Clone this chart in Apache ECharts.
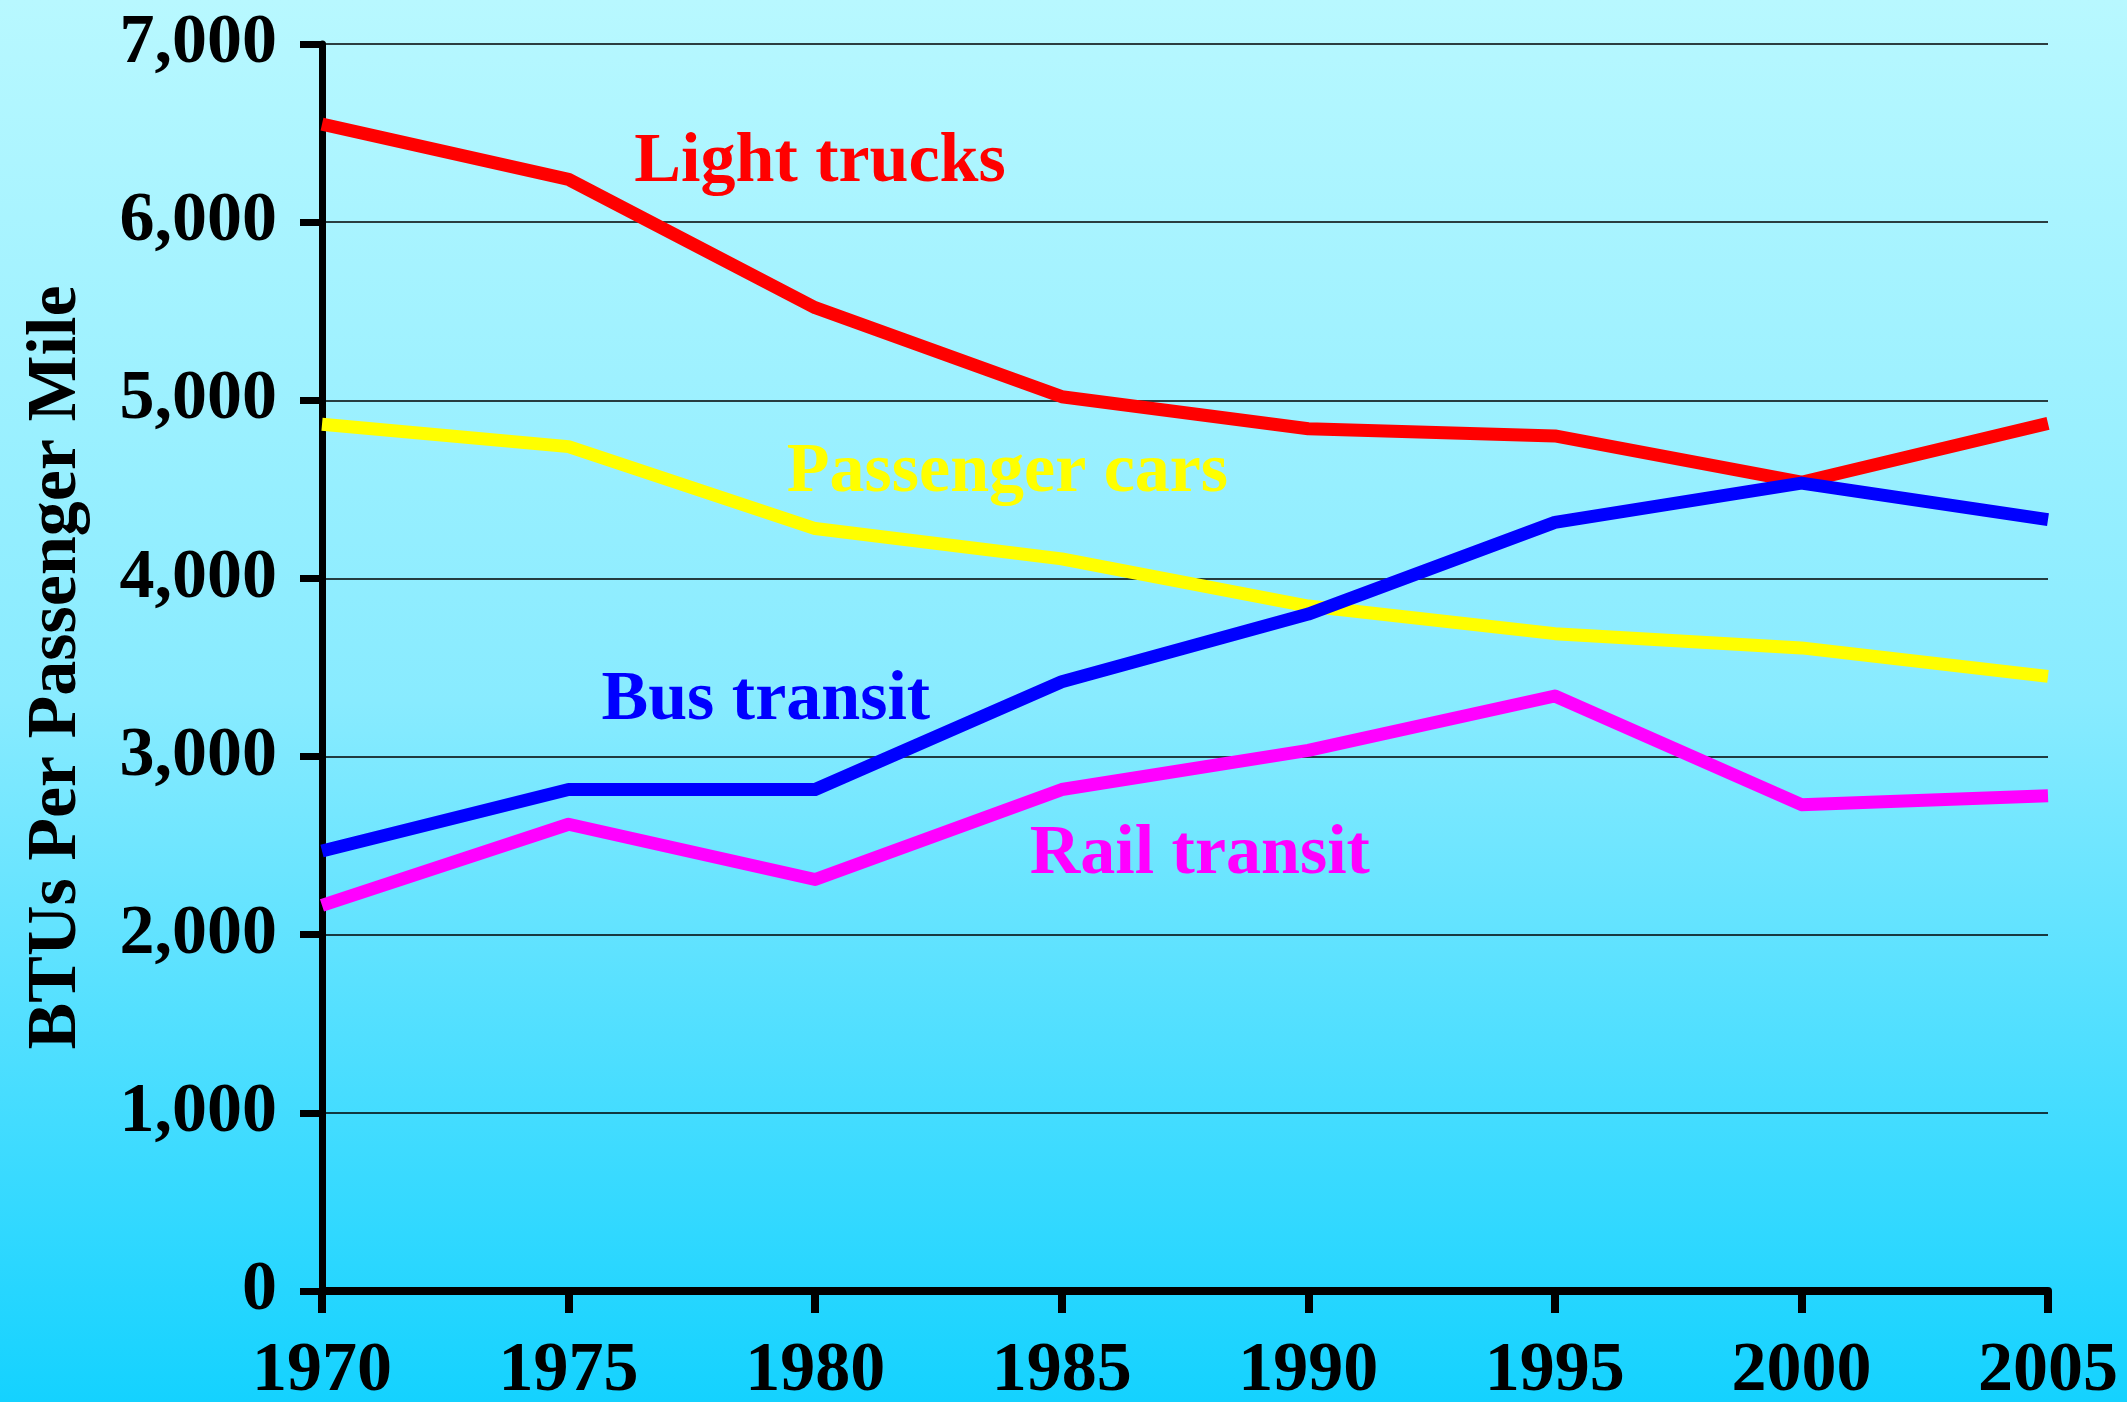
<!DOCTYPE html>
<html>
<head>
<meta charset="utf-8">
<title>BTUs Per Passenger Mile</title>
<script src="https://cdn.jsdelivr.net/npm/echarts@6/dist/echarts.min.js"></script>
<style>
  html, body { margin: 0; padding: 0; }
  #chart { width: 2127px; height: 1402px; }
</style>
</head>
<body>
<div id="chart"></div>
<script>
// 数据
var years = [1970, 1975, 1980, 1985, 1990, 1995, 2000, 2005];
var lightTrucks = [6550, 6240, 5520, 5020, 4840, 4800, 4540, 4870];
var passengerCars = [4865, 4740, 4280, 4110, 3845, 3690, 3610, 3450];
var busTransit = [2470, 2815, 2815, 3420, 3800, 4315, 4535, 4330];
var railTransit = [2165, 2620, 2310, 2815, 3035, 3340, 2730, 2780];
var seriesNames = ['Light trucks', 'Passenger cars', 'Bus transit', 'Rail transit'];
var seriesColors = ['#ff0000', '#ffff00', '#0000ff', '#ff00ff'];
// 文字标注的位置（年份, 数值）
var labelAnchors = [[1980.1, 6330], [1983.9, 4590], [1979.0, 3310], [1987.8, 2450]];

var FONT = '"Liberation Serif", "Times New Roman", serif';

function pairs(vals) {
    return years.map(function (y, i) { return [y, vals[i]]; });
}

var chart = echarts.init(document.getElementById('chart'));

var allValues = [lightTrucks, passengerCars, busTransit, railTransit];
var series = allValues.map(function (vals, k) {
    return {
        name: seriesNames[k],
        type: 'line',
        data: pairs(vals),
        symbol: 'none',
        lineStyle: { color: seriesColors[k], width: 13, cap: 'butt', join: 'round' },
        markPoint: {
            symbol: 'circle',
            symbolSize: 0,
            data: [{ coord: labelAnchors[k], value: seriesNames[k] }],
            label: {
                show: true,
                position: 'inside',
                formatter: seriesNames[k],
                color: seriesColors[k],
                fontFamily: FONT,
                fontWeight: 'bold',
                fontSize: 70
            }
        }
    };
});

var option = {
    animation: false,
    backgroundColor: new echarts.graphic.LinearGradient(0, 0, 0, 1, [
        { offset: 0, color: '#b8f8ff' },
        { offset: 0.5, color: '#88ebff' },
        { offset: 1, color: '#14d2ff' }
    ]),
    grid: { left: 322, right: 79, top: 44, bottom: 111, outerBoundsMode: 'none' },
    xAxis: {
        type: 'value',
        min: 1970,
        max: 2005,
        interval: 5,
        axisLine: { show: true, lineStyle: { color: '#000', width: 8 } },
        axisTick: { show: true, length: 22, lineStyle: { color: '#000', width: 8 } },
        splitLine: { show: false },
        axisLabel: {
            margin: 46,
            color: '#000',
            fontFamily: FONT,
            fontWeight: 'bold',
            fontSize: 70,
            showMinLabel: true,
            showMaxLabel: true,
            formatter: function (v) { return String(v); }
        }
    },
    yAxis: {
        type: 'value',
        min: 0,
        max: 7000,
        interval: 1000,
        name: 'BTUs Per Passenger Mile',
        nameLocation: 'middle',
        nameGap: 230,
        nameTextStyle: { color: '#000', fontFamily: FONT, fontWeight: 'bold', fontSize: 70 },
        axisLine: { show: true, lineStyle: { color: '#000', width: 7 } },
        axisTick: { show: true, length: 22, lineStyle: { color: '#000', width: 7 } },
        splitLine: { show: true, lineStyle: { color: '#000', width: 1.5 } },
        axisLabel: {
            margin: 45,
            color: '#000',
            fontFamily: FONT,
            fontWeight: 'bold',
            fontSize: 70,
            padding: [0, 0, 12, 0],
            formatter: function (v) {
                return v.toString().replace(/\B(?=(\d{3})+(?!\d))/g, ',');
            }
        }
    },
    series: series
};

chart.setOption(option);
</script>
</body>
</html>
